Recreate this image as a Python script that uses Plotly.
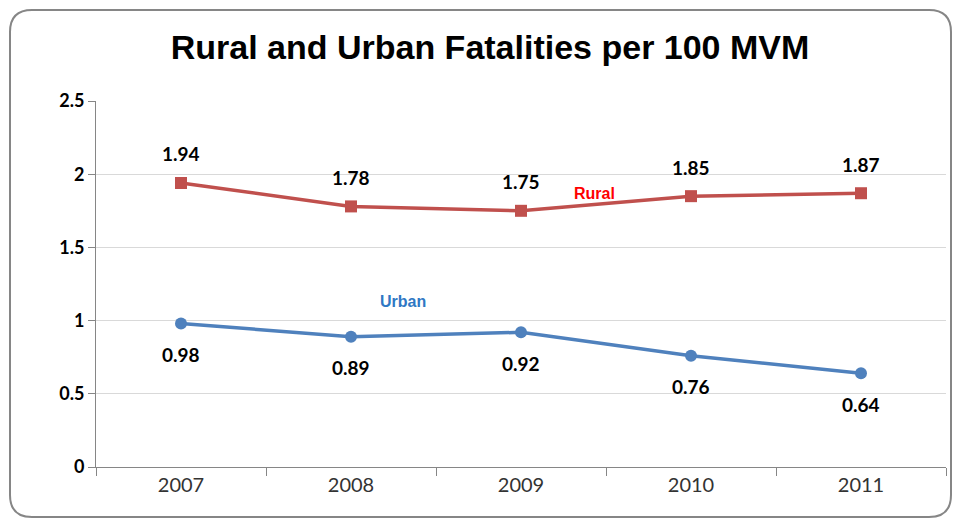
import plotly.graph_objects as go

years = ["2007", "2008", "2009", "2010", "2011"]
rural = [1.94, 1.78, 1.75, 1.85, 1.87]
urban = [0.98, 0.89, 0.92, 0.76, 0.64]
y_ticks = [0, 0.5, 1, 1.5, 2, 2.5]
y_tick_text = ["0", "0.5", "1", "1.5", "2", "2.5"]

W, H = 958, 520
L, R, T, B = 96, 12, 101, 53
pw, ph = W - L - R, H - T - B

def px(x):
    return (x - L) / pw

def py(y):
    return (H - B - y) / ph

fig = go.Figure()
fig.add_trace(go.Scatter(x=years, y=rural, mode="lines+markers", name="Rural",
                         line=dict(color="#C0504D", width=3.5),
                         marker=dict(symbol="square", size=12, color="#C0504D")))
fig.add_trace(go.Scatter(x=years, y=urban, mode="lines+markers", name="Urban",
                         line=dict(color="#4F81BD", width=3.5),
                         marker=dict(symbol="circle", size=12, color="#4F81BD")))

lab_font = dict(family="Lato", size=19, color="#000000")
for i, yv in enumerate(rural):
    fig.add_annotation(x=i, y=yv, xref="x", yref="y", text=f"<b>{yv:.2f}</b>",
                       showarrow=False, yshift=29, font=lab_font)
for i, yv in enumerate(urban):
    fig.add_annotation(x=i, y=yv, xref="x", yref="y", text=f"<b>{yv:.2f}</b>",
                       showarrow=False, yshift=-31, font=lab_font)

fig.add_annotation(x=px(594), y=py(193), xref="paper", yref="paper", text="<b>Rural</b>",
                   xanchor="center", yanchor="middle", showarrow=False,
                   font=dict(family="Liberation Sans", size=16, color="#FF0000"))
fig.add_annotation(x=px(403), y=py(301), xref="paper", yref="paper", text="<b>Urban</b>",
                   xanchor="center", yanchor="middle", showarrow=False,
                   font=dict(family="Liberation Sans", size=16, color="#2F78C4"))

# rounded border
x0, x1, y0, y1, r = 10, 951, 10, 517, 22
rx, ry = r / pw, r / ph
X0, X1, Y0, Y1 = px(x0), px(x1), py(y1), py(y0)
path = (f"M {X0+rx},{Y1} L {X1-rx},{Y1} Q {X1},{Y1} {X1},{Y1-ry} "
        f"L {X1},{Y0+ry} Q {X1},{Y0} {X1-rx},{Y0} L {X0+rx},{Y0} "
        f"Q {X0},{Y0} {X0},{Y0+ry} L {X0},{Y1-ry} Q {X0},{Y1} {X0+rx},{Y1} Z")
fig.add_shape(type="path", path=path, xref="paper", yref="paper",
              line=dict(color="#868686", width=2), layer="below")

fig.update_layout(
    width=W, height=H,
    margin=dict(l=L, r=R, t=T, b=B),
    paper_bgcolor="white", plot_bgcolor="white",
    showlegend=False,
    title=dict(text="<b>Rural and Urban Fatalities per 100 MVM</b>",
               x=490 / W, xanchor="center", y=(H - 47) / H, yanchor="middle",
               font=dict(family="Liberation Sans", size=34, color="#000000")),
)
fig.update_xaxes(type="category", range=[-0.5, 4.5], showgrid=False,
                 showline=True, linecolor="#868686", linewidth=1,
                 ticks="outside", tickson="boundaries", ticklen=8, tickcolor="#868686",
                 tickfont=dict(family="Lato", size=20, color="#333333"))
fig.update_yaxes(range=[0, 2.5], tickvals=y_ticks,
                 ticktext=[f"<b>{t}</b>" for t in y_tick_text],
                 showgrid=True, gridcolor="#D9D9D9", gridwidth=1,
                 showline=True, linecolor="#868686", linewidth=1, zeroline=False,
                 ticks="outside", ticklen=7, tickcolor="#868686",
                 tickfont=dict(family="Lato", size=18, color="#000000"))

fig.write_html("out.html", post_script="document.body.style.margin='0';",
               config={"displayModeBar": False})
